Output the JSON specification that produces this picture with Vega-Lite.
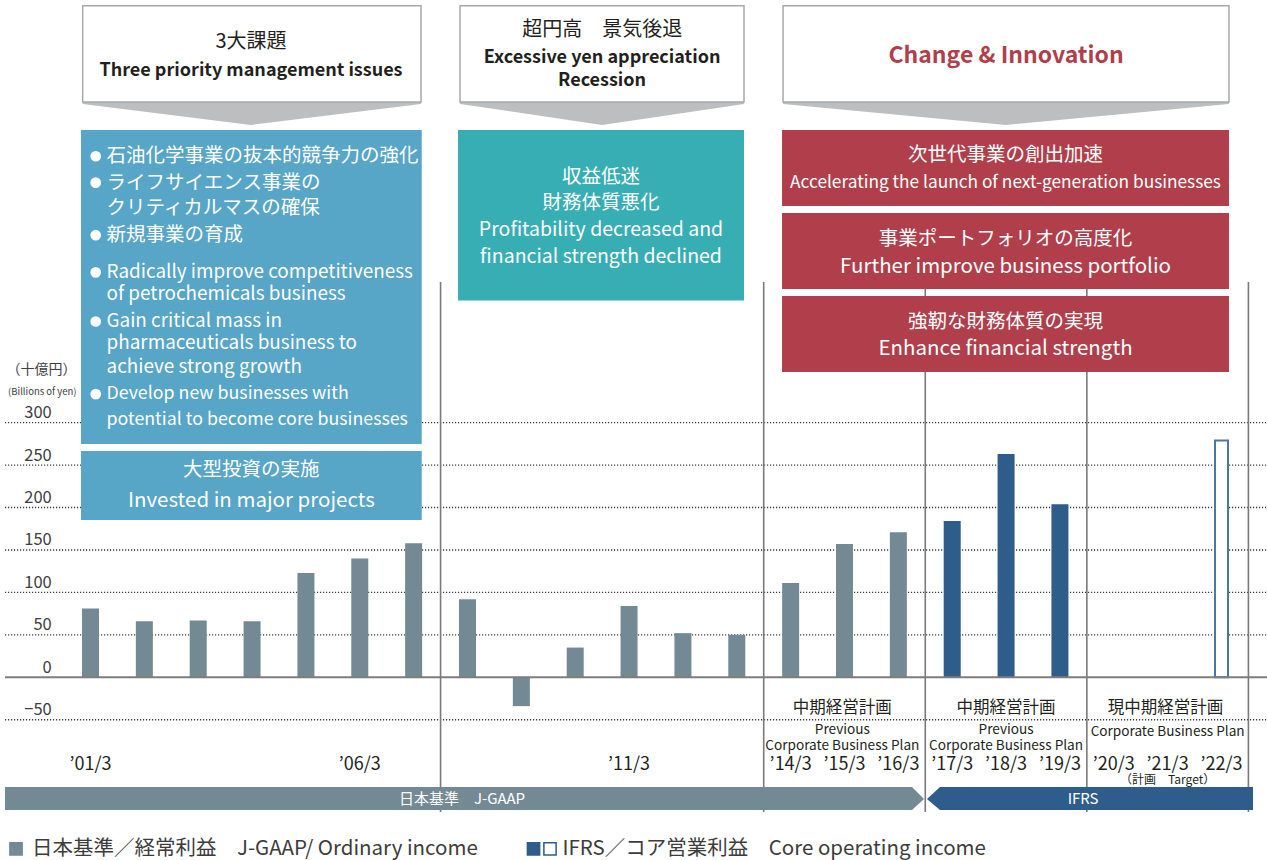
{
  "$schema": "https://vega.github.io/schema/vega-lite/v6.json",
  "width": 1267,
  "height": 860,
  "autosize": {"type": "none"},
  "padding": 0,
  "background": "white",
  "config": {"view": {"stroke": null}, "font": "Noto Sans CJK JP", "text": {"font": "Noto Sans CJK JP", "baseline": "middle"}},
  "resolve": {"scale": {"fill": "independent", "stroke": "independent", "color": "independent"}},
  "datasets": {
    "bars": [
      {"year": "’01/3", "idx": 1, "value": 81, "series": "J-GAAP"},
      {"year": "’02/3", "idx": 2, "value": 66, "series": "J-GAAP"},
      {"year": "’03/3", "idx": 3, "value": 67, "series": "J-GAAP"},
      {"year": "’04/3", "idx": 4, "value": 66, "series": "J-GAAP"},
      {"year": "’05/3", "idx": 5, "value": 123, "series": "J-GAAP"},
      {"year": "’06/3", "idx": 6, "value": 140, "series": "J-GAAP"},
      {"year": "’07/3", "idx": 7, "value": 158, "series": "J-GAAP"},
      {"year": "’08/3", "idx": 8, "value": 92, "series": "J-GAAP"},
      {"year": "’09/3", "idx": 9, "value": -34, "series": "J-GAAP"},
      {"year": "’10/3", "idx": 10, "value": 35, "series": "J-GAAP"},
      {"year": "’11/3", "idx": 11, "value": 84, "series": "J-GAAP"},
      {"year": "’12/3", "idx": 12, "value": 52, "series": "J-GAAP"},
      {"year": "’13/3", "idx": 13, "value": 50, "series": "J-GAAP"},
      {"year": "’14/3", "idx": 14, "value": 111, "series": "J-GAAP"},
      {"year": "’15/3", "idx": 15, "value": 157, "series": "J-GAAP"},
      {"year": "’16/3", "idx": 16, "value": 171, "series": "J-GAAP"},
      {"year": "’17/3", "idx": 17, "value": 184, "series": "IFRS"},
      {"year": "’18/3", "idx": 18, "value": 263, "series": "IFRS"},
      {"year": "’19/3", "idx": 19, "value": 204, "series": "IFRS"},
      {"year": "’22/3", "idx": 22, "value": 279, "series": "IFRS target"}
    ],
    "grid": [{"v": 300}, {"v": 250}, {"v": 200}, {"v": 150}, {"v": 100}, {"v": 50}, {"v": 0}, {"v": -50}],
    "dividers": [
      {"x": 7.5, "top": 465.8, "bottom": -158.7},
      {"x": 13.5, "top": 465.8, "bottom": -158.7},
      {"x": 16.5, "top": 465.8, "bottom": -158.7},
      {"x": 19.5, "top": 465.8, "bottom": -158.7},
      {"x": 22.5, "top": 465.8, "bottom": -158.7}
    ],
    "chevrons": [
      {"g": "a", "x": 0.855, "y": 677.9, "y2": 675.5},
      {"g": "a", "x": 3.98, "y": 677.9, "y2": 650.8},
      {"g": "a", "x": 7.137, "y": 677.9, "y2": 675.5},
      {"g": "b", "x": 7.861, "y": 677.9, "y2": 675.5},
      {"g": "b", "x": 10.5, "y": 677.9, "y2": 650.8},
      {"g": "b", "x": 13.134, "y": 677.9, "y2": 675.5},
      {"g": "c", "x": 13.859, "y": 677.9, "y2": 675.5},
      {"g": "c", "x": 18.0, "y": 677.9, "y2": 650.8},
      {"g": "c", "x": 22.139, "y": 677.9, "y2": 675.5}
    ],
    "headers": [
      {"x1": 0.855, "x2": 7.137, "y1": 791.3, "y2": 677.9},
      {"x1": 7.861, "x2": 13.134, "y1": 791.3, "y2": 677.9},
      {"x1": 13.859, "x2": 22.139, "y1": 791.3, "y2": 677.9}
    ],
    "boxes": [
      {"kind": "blue", "x1": 0.824, "x2": 7.15, "y1": 644.9, "y2": 274.9},
      {"kind": "blue", "x1": 0.824, "x2": 7.15, "y1": 266.6, "y2": 185.3},
      {"kind": "teal", "x1": 7.824, "x2": 13.134, "y1": 644.9, "y2": 444.0},
      {"kind": "red", "x1": 13.84, "x2": 22.139, "y1": 644.9, "y2": 555.3},
      {"kind": "red", "x1": 13.84, "x2": 22.139, "y1": 547.1, "y2": 457.5},
      {"kind": "red", "x1": 13.84, "x2": 22.139, "y1": 449.3, "y2": 359.7}
    ],
    "bullets": [
      {"x": 1.097, "y": 613.9}, {"x": 1.097, "y": 582.8}, {"x": 1.097, "y": 520.9},
      {"x": 1.097, "y": 477.1}, {"x": 1.097, "y": 419.2}, {"x": 1.097, "y": 333.6}
    ],
    "bands": [
      {"g": "jgaap", "x": -0.588, "y": -129.3, "y2": -156.4},
      {"g": "jgaap", "x": 16.253, "y": -129.3, "y2": -156.4},
      {"g": "jgaap", "x": 16.476, "y": -143.4, "y2": -143.4},
      {"g": "ifrs", "x": 16.532, "y": -143.4, "y2": -143.4},
      {"g": "ifrs", "x": 16.773, "y": -129.3, "y2": -156.4},
      {"g": "ifrs", "x": 22.585, "y": -129.3, "y2": -156.4}
    ],
    "xlabels": [
      {"t": "’01/3", "x": 1}, {"t": "’06/3", "x": 6}, {"t": "’11/3", "x": 11},
      {"t": "’14/3", "x": 14}, {"t": "’15/3", "x": 15}, {"t": "’16/3", "x": 16},
      {"t": "’17/3", "x": 17}, {"t": "’18/3", "x": 18}, {"t": "’19/3", "x": 19},
      {"t": "’20/3", "x": 20}, {"t": "’21/3", "x": 21}, {"t": "’22/3", "x": 22}
    ],
    "legendmarks": [
      {"s": "J-GAAP", "x": -0.383},
      {"s": "IFRS", "x": 9.226},
      {"s": "IFRS target", "x": 9.532}
    ],
    "texts": [
      {"s": "hj", "t": "3大課題", "x": 3.98, "y": 748.3},
      {"s": "hj", "t": "超円高　景気後退", "x": 10.5, "y": 762.9},
      {"s": "hb", "t": "Three priority management issues", "x": 3.98, "y": 714.4},
      {"s": "hb", "t": "Excessive yen appreciation", "x": 10.5, "y": 729.4},
      {"s": "hb", "t": "Recession", "x": 10.5, "y": 702.6},
      {"s": "hr", "t": "Change & Innovation", "x": 18.0, "y": 732.1},
      {"s": "bl", "t": "石油化学事業の抜本的競争力の強化", "x": 1.297, "y": 613.9},
      {"s": "bl", "t": "ライフサイエンス事業の", "x": 1.297, "y": 582.8},
      {"s": "bl", "t": "クリティカルマスの確保", "x": 1.297, "y": 552.8},
      {"s": "bl", "t": "新規事業の育成", "x": 1.297, "y": 520.9},
      {"s": "be", "t": "Radically improve competitiveness", "x": 1.297, "y": 477.1},
      {"s": "be", "t": "of petrochemicals business", "x": 1.297, "y": 451.2},
      {"s": "be", "t": "Gain critical mass in", "x": 1.297, "y": 419.2},
      {"s": "be", "t": "pharmaceuticals business to", "x": 1.297, "y": 393.3},
      {"s": "be", "t": "achieve strong growth", "x": 1.297, "y": 365.4},
      {"s": "bs", "t": "Develop new businesses with", "x": 1.297, "y": 333.6},
      {"s": "bs", "t": "potential to become core businesses", "x": 1.297, "y": 303.6},
      {"s": "wc", "t": "大型投資の実施", "x": 3.987, "y": 243.8},
      {"s": "wl", "t": "Invested in major projects", "x": 3.987, "y": 208.0},
      {"s": "wc", "t": "収益低迷", "x": 10.479, "y": 589.8},
      {"s": "wc", "t": "財務体質悪化", "x": 10.479, "y": 558.5},
      {"s": "wc", "t": "Profitability decreased and", "x": 10.479, "y": 527.0},
      {"s": "wc", "t": "financial strength declined", "x": 10.479, "y": 495.6},
      {"s": "wc", "t": "次世代事業の創出加速", "x": 17.99, "y": 615.1},
      {"s": "wn", "t": "Accelerating the launch of next-generation businesses", "x": 17.99, "y": 582.1},
      {"s": "wc", "t": "事業ポートフォリオの高度化", "x": 17.99, "y": 516.4},
      {"s": "wl", "t": "Further improve business portfolio", "x": 17.99, "y": 483.8},
      {"s": "wc", "t": "強靭な財務体質の実現", "x": 17.99, "y": 418.6},
      {"s": "wl", "t": "Enhance financial strength", "x": 17.99, "y": 386.5},
      {"s": "pj", "t": "中期経営計画", "x": 14.96, "y": -36.5},
      {"s": "pj", "t": "中期経営計画", "x": 18.0, "y": -36.5},
      {"s": "pj", "t": "現中期経営計画", "x": 20.96, "y": -36.5},
      {"s": "pe", "t": "Previous", "x": 14.96, "y": -62.3},
      {"s": "pe", "t": "Corporate Business Plan", "x": 14.96, "y": -80.6},
      {"s": "pe", "t": "Previous", "x": 18.0, "y": -62.3},
      {"s": "pe", "t": "Corporate Business Plan", "x": 18.0, "y": -80.6},
      {"s": "pe", "t": "Corporate Business Plan", "x": 21.0, "y": -64.1},
      {"s": "tg", "t": "（計画　Target）", "x": 21.0, "y": -121.5},
      {"s": "bw", "t": "日本基準　J-GAAP", "x": 7.898, "y": -143.4},
      {"s": "bw", "t": "IFRS", "x": 19.43, "y": -143.4},
      {"s": "lg", "t": "日本基準／経常利益　J-GAAP/ Ordinary income", "x": -0.086, "y": -202.3},
      {"s": "lg", "t": "IFRS／コア営業利益　Core operating income", "x": 9.764, "y": -202.3},
      {"s": "yu", "t": "（十億円）", "x": -0.56, "y": 362.1},
      {"s": "yb", "t": "(Billions of yen)", "x": -0.53, "y": 336.5}
    ]
  },
  "layer": [
    {
      "data": {"name": "grid"},
      "transform": [{"filter": "datum.v !== 0"}],
      "mark": {"type": "rule", "color": "#3a3a3a", "strokeDash": [1.2, 1.8], "strokeWidth": 1.4},
      "encoding": {
        "y": {"field": "v", "type": "quantitative", "scale": {"domain": [-215.3, 798.0], "nice": false, "zero": false, "padding": 0}, "axis": null},
        "x": {"datum": -0.588, "type": "quantitative", "scale": {"domain": [-0.6804, 22.845], "nice": false, "zero": false, "padding": 0}, "axis": null},
        "x2": {"datum": 22.845}
      }
    },
    {
      "data": {"name": "dividers"},
      "mark": {"type": "rule", "color": "#7a7a7a", "strokeWidth": 1.6},
      "encoding": {
        "x": {"field": "x", "type": "quantitative", "scale": {"domain": [-0.6804, 22.845], "nice": false, "zero": false, "padding": 0}, "axis": null},
        "y": {"field": "top", "type": "quantitative", "scale": {"domain": [-215.3, 798.0], "nice": false, "zero": false, "padding": 0}, "axis": null},
        "y2": {"field": "bottom"}
      }
    },
    {
      "data": {"name": "chevrons"},
      "mark": {"type": "area", "color": "#bcbec0", "interpolate": "linear", "opacity": 1},
      "encoding": {
        "x": {"field": "x", "type": "quantitative", "scale": {"domain": [-0.6804, 22.845], "nice": false, "zero": false, "padding": 0}, "axis": null},
        "y": {"field": "y", "type": "quantitative", "scale": {"domain": [-215.3, 798.0], "nice": false, "zero": false, "padding": 0}, "axis": null},
        "y2": {"field": "y2"},
        "detail": {"field": "g", "type": "nominal"}
      }
    },
    {
      "data": {"name": "headers"},
      "mark": {"type": "rect", "fill": "#ffffff", "stroke": "#a7a9ac", "strokeWidth": 1.5},
      "encoding": {
        "x": {"field": "x1", "type": "quantitative", "scale": {"domain": [-0.6804, 22.845], "nice": false, "zero": false, "padding": 0}, "axis": null},
        "x2": {"field": "x2"},
        "y": {"field": "y1", "type": "quantitative", "scale": {"domain": [-215.3, 798.0], "nice": false, "zero": false, "padding": 0}, "axis": null},
        "y2": {"field": "y2"}
      }
    },
    {
      "data": {"name": "boxes"},
      "mark": {"type": "rect"},
      "encoding": {
        "x": {"field": "x1", "type": "quantitative", "scale": {"domain": [-0.6804, 22.845], "nice": false, "zero": false, "padding": 0}, "axis": null},
        "x2": {"field": "x2"},
        "y": {"field": "y1", "type": "quantitative", "scale": {"domain": [-215.3, 798.0], "nice": false, "zero": false, "padding": 0}, "axis": null},
        "y2": {"field": "y2"},
        "fill": {"field": "kind", "type": "nominal", "scale": {"domain": ["blue", "teal", "red"], "range": ["#57a5c7", "#37aeb3", "#b03f4b"]}, "legend": null}
      }
    },
    {
      "data": {"name": "bullets"},
      "mark": {"type": "point", "shape": "circle", "filled": true, "color": "#ffffff", "size": 115, "opacity": 1},
      "encoding": {
        "x": {"field": "x", "type": "quantitative", "scale": {"domain": [-0.6804, 22.845], "nice": false, "zero": false, "padding": 0}, "axis": null},
        "y": {"field": "y", "type": "quantitative", "scale": {"domain": [-215.3, 798.0], "nice": false, "zero": false, "padding": 0}, "axis": null}
      }
    },
    {
      "data": {"name": "texts"},
      "transform": [{"filter": "datum.s === 'hj'"}],
      "mark": {"type": "text", "fontSize": 20, "color": "#231f20", "align": "center"},
      "encoding": {
        "x": {"field": "x", "type": "quantitative", "scale": {"domain": [-0.6804, 22.845], "nice": false, "zero": false, "padding": 0}, "axis": null},
        "y": {"field": "y", "type": "quantitative", "scale": {"domain": [-215.3, 798.0], "nice": false, "zero": false, "padding": 0}, "axis": null},
        "text": {"field": "t"}
      }
    },
    {
      "data": {"name": "texts"},
      "transform": [{"filter": "datum.s === 'hb'"}],
      "mark": {"type": "text", "fontSize": 18, "fontWeight": "bold", "color": "#231f20", "align": "center"},
      "encoding": {
        "x": {"field": "x", "type": "quantitative", "scale": {"domain": [-0.6804, 22.845], "nice": false, "zero": false, "padding": 0}, "axis": null},
        "y": {"field": "y", "type": "quantitative", "scale": {"domain": [-215.3, 798.0], "nice": false, "zero": false, "padding": 0}, "axis": null},
        "text": {"field": "t"}
      }
    },
    {
      "data": {"name": "texts"},
      "transform": [{"filter": "datum.s === 'hr'"}],
      "mark": {"type": "text", "fontSize": 23, "fontWeight": "bold", "color": "#b03f4b", "align": "center"},
      "encoding": {
        "x": {"field": "x", "type": "quantitative", "scale": {"domain": [-0.6804, 22.845], "nice": false, "zero": false, "padding": 0}, "axis": null},
        "y": {"field": "y", "type": "quantitative", "scale": {"domain": [-215.3, 798.0], "nice": false, "zero": false, "padding": 0}, "axis": null},
        "text": {"field": "t"}
      }
    },
    {
      "data": {"name": "texts"},
      "transform": [{"filter": "datum.s === 'bl'"}],
      "mark": {"type": "text", "fontSize": 19.5, "color": "#ffffff", "align": "left"},
      "encoding": {
        "x": {"field": "x", "type": "quantitative", "scale": {"domain": [-0.6804, 22.845], "nice": false, "zero": false, "padding": 0}, "axis": null},
        "y": {"field": "y", "type": "quantitative", "scale": {"domain": [-215.3, 798.0], "nice": false, "zero": false, "padding": 0}, "axis": null},
        "text": {"field": "t"}
      }
    },
    {
      "data": {"name": "texts"},
      "transform": [{"filter": "datum.s === 'be'"}],
      "mark": {"type": "text", "fontSize": 18.9, "color": "#ffffff", "align": "left"},
      "encoding": {
        "x": {"field": "x", "type": "quantitative", "scale": {"domain": [-0.6804, 22.845], "nice": false, "zero": false, "padding": 0}, "axis": null},
        "y": {"field": "y", "type": "quantitative", "scale": {"domain": [-215.3, 798.0], "nice": false, "zero": false, "padding": 0}, "axis": null},
        "text": {"field": "t"}
      }
    },
    {
      "data": {"name": "texts"},
      "transform": [{"filter": "datum.s === 'bs'"}],
      "mark": {"type": "text", "fontSize": 17.8, "color": "#ffffff", "align": "left"},
      "encoding": {
        "x": {"field": "x", "type": "quantitative", "scale": {"domain": [-0.6804, 22.845], "nice": false, "zero": false, "padding": 0}, "axis": null},
        "y": {"field": "y", "type": "quantitative", "scale": {"domain": [-215.3, 798.0], "nice": false, "zero": false, "padding": 0}, "axis": null},
        "text": {"field": "t"}
      }
    },
    {
      "data": {"name": "texts"},
      "transform": [{"filter": "datum.s === 'wc'"}],
      "mark": {"type": "text", "fontSize": 19.5, "color": "#ffffff", "align": "center"},
      "encoding": {
        "x": {"field": "x", "type": "quantitative", "scale": {"domain": [-0.6804, 22.845], "nice": false, "zero": false, "padding": 0}, "axis": null},
        "y": {"field": "y", "type": "quantitative", "scale": {"domain": [-215.3, 798.0], "nice": false, "zero": false, "padding": 0}, "axis": null},
        "text": {"field": "t"}
      }
    },
    {
      "data": {"name": "texts"},
      "transform": [{"filter": "datum.s === 'wl'"}],
      "mark": {"type": "text", "fontSize": 20.5, "color": "#ffffff", "align": "center"},
      "encoding": {
        "x": {"field": "x", "type": "quantitative", "scale": {"domain": [-0.6804, 22.845], "nice": false, "zero": false, "padding": 0}, "axis": null},
        "y": {"field": "y", "type": "quantitative", "scale": {"domain": [-215.3, 798.0], "nice": false, "zero": false, "padding": 0}, "axis": null},
        "text": {"field": "t"}
      }
    },
    {
      "data": {"name": "texts"},
      "transform": [{"filter": "datum.s === 'wn'"}],
      "mark": {"type": "text", "fontSize": 17.3, "color": "#ffffff", "align": "center"},
      "encoding": {
        "x": {"field": "x", "type": "quantitative", "scale": {"domain": [-0.6804, 22.845], "nice": false, "zero": false, "padding": 0}, "axis": null},
        "y": {"field": "y", "type": "quantitative", "scale": {"domain": [-215.3, 798.0], "nice": false, "zero": false, "padding": 0}, "axis": null},
        "text": {"field": "t"}
      }
    },
    {
      "data": {"name": "bars"},
      "transform": [{"filter": "datum.series !== 'IFRS target'"}],
      "mark": {"type": "bar", "orient": "vertical", "size": 17},
      "encoding": {
        "x": {"field": "idx", "type": "quantitative", "scale": {"domain": [-0.6804, 22.845], "nice": false, "zero": false, "padding": 0}, "axis": null},
        "y": {"field": "value", "type": "quantitative", "scale": {"domain": [-215.3, 798.0], "nice": false, "zero": false, "padding": 0}, "axis": null},
        "y2": {"datum": 0},
        "fill": {"field": "series", "type": "nominal", "scale": {"domain": ["J-GAAP", "IFRS"], "range": ["#738a94", "#2e5d8c"]}, "legend": null}
      }
    },
    {
      "data": {"name": "bars"},
      "transform": [{"filter": "datum.series === 'IFRS target'"}],
      "mark": {"type": "bar", "orient": "vertical", "size": 13, "fill": "#ffffff", "stroke": "#4a76a8", "strokeWidth": 2},
      "encoding": {
        "x": {"field": "idx", "type": "quantitative", "scale": {"domain": [-0.6804, 22.845], "nice": false, "zero": false, "padding": 0}, "axis": null},
        "y": {"field": "value", "type": "quantitative", "scale": {"domain": [-215.3, 798.0], "nice": false, "zero": false, "padding": 0}, "axis": null},
        "y2": {"datum": 0}
      }
    },
    {
      "data": {"name": "grid"},
      "transform": [{"filter": "datum.v === 0"}],
      "mark": {"type": "rule", "color": "#7d7d7d", "strokeWidth": 2},
      "encoding": {
        "y": {"field": "v", "type": "quantitative", "scale": {"domain": [-215.3, 798.0], "nice": false, "zero": false, "padding": 0}, "axis": null},
        "x": {"datum": -0.588, "type": "quantitative", "scale": {"domain": [-0.6804, 22.845], "nice": false, "zero": false, "padding": 0}, "axis": null},
        "x2": {"datum": 22.845}
      }
    },
    {
      "data": {"name": "bands"},
      "mark": {"type": "area", "interpolate": "linear", "opacity": 1},
      "encoding": {
        "x": {"field": "x", "type": "quantitative", "scale": {"domain": [-0.6804, 22.845], "nice": false, "zero": false, "padding": 0}, "axis": null},
        "y": {"field": "y", "type": "quantitative", "scale": {"domain": [-215.3, 798.0], "nice": false, "zero": false, "padding": 0}, "axis": null},
        "y2": {"field": "y2"},
        "color": {"field": "g", "type": "nominal", "scale": {"domain": ["jgaap", "ifrs"], "range": ["#738a94", "#2e5d8c"]}, "legend": null}
      }
    },
    {
      "data": {"name": "texts"},
      "transform": [{"filter": "datum.s === 'bw'"}],
      "mark": {"type": "text", "fontSize": 15, "color": "#ffffff", "align": "center"},
      "encoding": {
        "x": {"field": "x", "type": "quantitative", "scale": {"domain": [-0.6804, 22.845], "nice": false, "zero": false, "padding": 0}, "axis": null},
        "y": {"field": "y", "type": "quantitative", "scale": {"domain": [-215.3, 798.0], "nice": false, "zero": false, "padding": 0}, "axis": null},
        "text": {"field": "t"}
      }
    },
    {
      "data": {"name": "xlabels"},
      "mark": {"type": "text", "fontSize": 18, "color": "#231f20", "align": "center"},
      "encoding": {
        "x": {"field": "x", "type": "quantitative", "scale": {"domain": [-0.6804, 22.845], "nice": false, "zero": false, "padding": 0}, "axis": null},
        "y": {"datum": -103.3, "type": "quantitative", "scale": {"domain": [-215.3, 798.0], "nice": false, "zero": false, "padding": 0}, "axis": null},
        "text": {"field": "t"}
      }
    },
    {
      "data": {"name": "texts"},
      "transform": [{"filter": "datum.s === 'pj'"}],
      "mark": {"type": "text", "fontSize": 16.5, "color": "#231f20", "align": "center"},
      "encoding": {
        "x": {"field": "x", "type": "quantitative", "scale": {"domain": [-0.6804, 22.845], "nice": false, "zero": false, "padding": 0}, "axis": null},
        "y": {"field": "y", "type": "quantitative", "scale": {"domain": [-215.3, 798.0], "nice": false, "zero": false, "padding": 0}, "axis": null},
        "text": {"field": "t"}
      }
    },
    {
      "data": {"name": "texts"},
      "transform": [{"filter": "datum.s === 'pe'"}],
      "mark": {"type": "text", "fontSize": 13.6, "color": "#231f20", "align": "center"},
      "encoding": {
        "x": {"field": "x", "type": "quantitative", "scale": {"domain": [-0.6804, 22.845], "nice": false, "zero": false, "padding": 0}, "axis": null},
        "y": {"field": "y", "type": "quantitative", "scale": {"domain": [-215.3, 798.0], "nice": false, "zero": false, "padding": 0}, "axis": null},
        "text": {"field": "t"}
      }
    },
    {
      "data": {"name": "texts"},
      "transform": [{"filter": "datum.s === 'tg'"}],
      "mark": {"type": "text", "fontSize": 12, "color": "#231f20", "align": "center"},
      "encoding": {
        "x": {"field": "x", "type": "quantitative", "scale": {"domain": [-0.6804, 22.845], "nice": false, "zero": false, "padding": 0}, "axis": null},
        "y": {"field": "y", "type": "quantitative", "scale": {"domain": [-215.3, 798.0], "nice": false, "zero": false, "padding": 0}, "axis": null},
        "text": {"field": "t"}
      }
    },
    {
      "data": {"name": "grid"},
      "mark": {"type": "text", "fontSize": 16.5, "color": "#404040", "align": "right", "dy": -9.5},
      "encoding": {
        "x": {"datum": 0.28, "type": "quantitative", "scale": {"domain": [-0.6804, 22.845], "nice": false, "zero": false, "padding": 0}, "axis": null},
        "y": {"field": "v", "type": "quantitative", "scale": {"domain": [-215.3, 798.0], "nice": false, "zero": false, "padding": 0}, "axis": null},
        "text": {"field": "v", "type": "quantitative"}
      }
    },
    {
      "data": {"name": "texts"},
      "transform": [{"filter": "datum.s === 'yu'"}],
      "mark": {"type": "text", "fontSize": 14, "color": "#404040", "align": "left"},
      "encoding": {
        "x": {"field": "x", "type": "quantitative", "scale": {"domain": [-0.6804, 22.845], "nice": false, "zero": false, "padding": 0}, "axis": null},
        "y": {"field": "y", "type": "quantitative", "scale": {"domain": [-215.3, 798.0], "nice": false, "zero": false, "padding": 0}, "axis": null},
        "text": {"field": "t"}
      }
    },
    {
      "data": {"name": "texts"},
      "transform": [{"filter": "datum.s === 'yb'"}],
      "mark": {"type": "text", "fontSize": 9.5, "color": "#404040", "align": "left"},
      "encoding": {
        "x": {"field": "x", "type": "quantitative", "scale": {"domain": [-0.6804, 22.845], "nice": false, "zero": false, "padding": 0}, "axis": null},
        "y": {"field": "y", "type": "quantitative", "scale": {"domain": [-215.3, 798.0], "nice": false, "zero": false, "padding": 0}, "axis": null},
        "text": {"field": "t"}
      }
    },
    {
      "data": {"name": "legendmarks"},
      "mark": {"type": "point", "shape": "square", "size": 150, "opacity": 1, "strokeWidth": 1.5},
      "encoding": {
        "x": {"field": "x", "type": "quantitative", "scale": {"domain": [-0.6804, 22.845], "nice": false, "zero": false, "padding": 0}, "axis": null},
        "y": {"datum": -202.3, "type": "quantitative", "scale": {"domain": [-215.3, 798.0], "nice": false, "zero": false, "padding": 0}, "axis": null},
        "fill": {"field": "s", "type": "nominal", "scale": {"domain": ["J-GAAP", "IFRS", "IFRS target"], "range": ["#738a94", "#2e5d8c", "#ffffff"]}, "legend": null},
        "stroke": {"field": "s", "type": "nominal", "scale": {"domain": ["J-GAAP", "IFRS", "IFRS target"], "range": ["#738a94", "#2e5d8c", "#2e5d8c"]}, "legend": null}
      }
    },
    {
      "data": {"name": "texts"},
      "transform": [{"filter": "datum.s === 'lg'"}],
      "mark": {"type": "text", "fontSize": 20.5, "color": "#3c3c3c", "align": "left"},
      "encoding": {
        "x": {"field": "x", "type": "quantitative", "scale": {"domain": [-0.6804, 22.845], "nice": false, "zero": false, "padding": 0}, "axis": null},
        "y": {"field": "y", "type": "quantitative", "scale": {"domain": [-215.3, 798.0], "nice": false, "zero": false, "padding": 0}, "axis": null},
        "text": {"field": "t"}
      }
    }
  ]
}
